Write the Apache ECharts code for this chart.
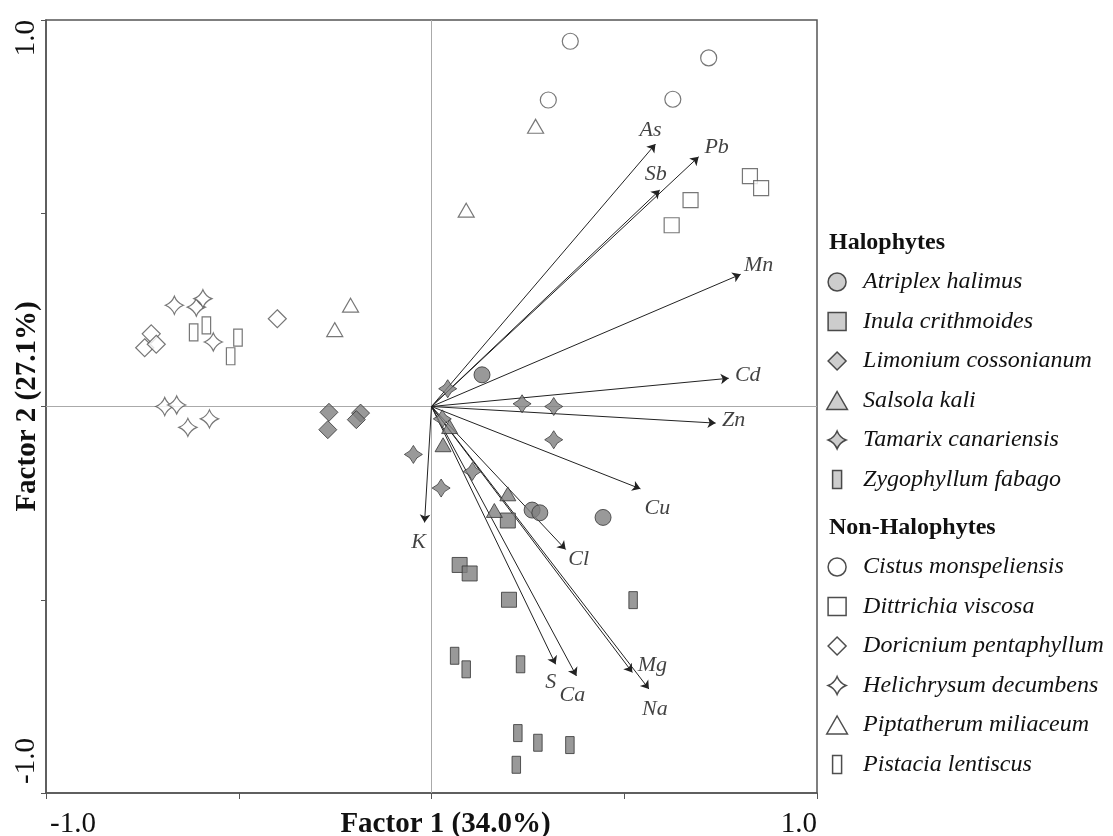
<!DOCTYPE html>
<html><head><meta charset="utf-8">
<script src="https://cdn.jsdelivr.net/npm/echarts@6/dist/echarts.min.js"></script>
<style>html,body{margin:0;padding:0;background:#fff}#c{width:1113px;height:836px}</style>
</head><body><div id="c"></div>
<script>
// ---- Data (Factor 1, Factor 2 scores) ----
const atriplexHalimus      = [[0.131,0.082],[0.261,-0.268],[0.281,-0.275],[0.445,-0.287]];
const inulaCrithmoides     = [[0.198,-0.295],[0.073,-0.410],[0.099,-0.432],[0.201,-0.500]];
const limoniumCossonianum  = [[-0.266,-0.015],[-0.269,-0.060],[-0.184,-0.017],[-0.195,-0.034]];
const salsolaKali          = [[0.047,-0.052],[0.030,-0.099],[0.198,-0.226],[0.163,-0.269]];
const tamarixCanariensis   = [[0.042,0.046],[0.235,0.007],[0.317,0.000],[0.317,-0.086],[0.106,-0.168],[0.025,-0.211],[-0.047,-0.124],[0.028,-0.032]];
const zygophyllumFabago    = [[0.523,-0.501],[0.060,-0.645],[0.090,-0.680],[0.231,-0.667],[0.224,-0.845],[0.276,-0.870],[0.359,-0.876],[0.220,-0.927]];

const cistusMonspeliensis  = [[0.360,0.945],[0.719,0.902],[0.303,0.793],[0.626,0.795]];
const dittrichiaViscosa    = [[0.826,0.596],[0.855,0.565],[0.672,0.534],[0.623,0.469]];
const doricniumPentaphyllum= [[-0.400,0.227],[-0.727,0.188],[-0.744,0.152],[-0.714,0.161]];
const helichrysumDecumbens = [[-0.667,0.262],[-0.610,0.257],[-0.593,0.279],[-0.566,0.167],[-0.692,0.000],[-0.661,0.004],[-0.632,-0.054],[-0.576,-0.032]];
const piptatherumMiliaceum = [[0.270,0.725],[0.090,0.508],[-0.210,0.262],[-0.251,0.199]];
const pistaciaLentiscus    = [[-0.617,0.192],[-0.584,0.210],[-0.502,0.178],[-0.521,0.130]];

// variable loadings (arrows)
const vectorNames = ['As','Pb','Sb','Mn','Cd','Zn','Cu','Cl','Mg','Na','S','Ca','K'];
const vectorX     = [0.581,0.693,0.592,0.802,0.771,0.737,0.542,0.348,0.521,0.564,0.322,0.376,-0.018];
const vectorY     = [0.679,0.646,0.560,0.342,0.073,-0.043,-0.213,-0.370,-0.688,-0.731,-0.667,-0.697,-0.300];

// axis tick labels
const xTickValues = [-1, 1];
const xTickLabels = ['-1.0', '1.0'];
const yTickValues = [-1, 1];
const yTickLabels = ['-1.0', '1.0'];

const haloNames = ['Atriplex halimus','Inula crithmoides','Limonium cossonianum','Salsola kali','Tamarix canariensis','Zygophyllum fabago'];
const nonHaloNames = ['Cistus monspeliensis','Dittrichia viscosa','Doricnium pentaphyllum','Helichrysum decumbens','Piptatherum miliaceum','Pistacia lentiscus'];

// ---- styling ----
const FONT = '"Liberation Serif", "Times New Roman", serif';
const labelOffsets = {As:[-5,-14],Pb:[18,-10],Sb:[-4,-16],Mn:[18,-9],Cd:[19,-3],Zn:[18,-3],Cu:[17,19],Cl:[13,10],Mg:[20,-7],Na:[6,20],S:[-5,18],Ca:[-4,19],K:[-6,20]};
const SYM = {
  circle:'circle',
  square:'path://M0,0H10V10H0Z',
  diamond:'path://M5,0L10,5L5,10L0,5Z',
  triangle:'path://M5,0L10,8.7L0,8.7Z',
  star:'path://M10,0Q12.8,7.2 20,10Q12.8,12.8 10,20Q7.2,12.8 0,10Q7.2,7.2 10,0Z',
  bar:'path://M0,0H5V10H0Z'
};
const filledStyle = {color:'#7f7f7f', borderColor:'#333', borderWidth:1};
const openStyle = {color:'#ffffff', borderColor:'#555', borderWidth:1.2};

function sc(name, data, sym, size, style){
  return {type:'scatter', name, data, symbol:SYM[sym], symbolSize:size, symbolKeepAspect:true,
    itemStyle:style, z:5, emphasis:{disabled:true}};
}
function tickFmt(values, labels){
  return v => { const i = values.findIndex(t => Math.abs(t - v) < 1e-9); return i >= 0 ? labels[i] : ''; };
}

const series = [
  {type:'lines', coordinateSystem:'cartesian2d', z:3, silent:true,
   data: vectorNames.map((n,i)=>({name:n, coords:[[0,0],[vectorX[i],vectorY[i]]]})),
   symbol:['none','arrow'], symbolSize:[0,8],
   lineStyle:{color:'#222', width:1, opacity:1},
   markLine:{silent:true, symbol:['none','none'], label:{show:false},
     lineStyle:{color:'#aaa', width:1, type:'solid'},
     data:[{xAxis:0},{yAxis:0}], z:1}
  },
  sc('Atriplex halimus', atriplexHalimus, 'circle', 16, filledStyle),
  sc('Inula crithmoides', inulaCrithmoides, 'square', 15, filledStyle),
  sc('Limonium cossonianum', limoniumCossonianum, 'diamond', 18, filledStyle),
  sc('Salsola kali', salsolaKali, 'triangle', 16, filledStyle),
  sc('Tamarix canariensis', tamarixCanariensis, 'star', 18, filledStyle),
  sc('Zygophyllum fabago', zygophyllumFabago, 'bar', 17, filledStyle),
  sc('Cistus monspeliensis', cistusMonspeliensis, 'circle', 16, openStyle),
  sc('Dittrichia viscosa', dittrichiaViscosa, 'square', 15, openStyle),
  sc('Doricnium pentaphyllum', doricniumPentaphyllum, 'diamond', 18, openStyle),
  sc('Helichrysum decumbens', helichrysumDecumbens, 'star', 18, openStyle),
  sc('Piptatherum miliaceum', piptatherumMiliaceum, 'triangle', 16, openStyle),
  sc('Pistacia lentiscus', pistaciaLentiscus, 'bar', 17, openStyle),
  {type:'scatter', name:'vectorLabels', silent:true, z:6, symbolSize:1,
   itemStyle:{color:'rgba(0,0,0,0)'},
   data: vectorNames.map((n,i)=>({name:n, value:[vectorX[i],vectorY[i]], label:{offset:labelOffsets[n]}})),
   label:{show:true, position:'inside', formatter:'{b}', fontFamily:FONT, fontStyle:'italic', fontSize:22, color:'#111'}
  }
];

const legendText = {fontFamily:FONT, fontStyle:'italic', fontSize:24, lineHeight:24, color:'#111'};
const option = {
  animation:false,
  backgroundColor:'#fff',
  grid:{left:46, right:296, top:20, bottom:43, show:true, borderColor:'#555', borderWidth:1.5, backgroundColor:'transparent', outerBoundsMode:'none'},
  xAxis:{type:'value', min:-1, max:1, interval:0.5, position:'bottom',
    axisLine:{onZero:false, lineStyle:{color:'#555', width:1.5}},
    axisTick:{show:true, length:6, lineStyle:{color:'#555'}},
    splitLine:{show:false},
    axisLabel:{formatter:tickFmt(xTickValues,xTickLabels), fontFamily:FONT, fontSize:29, color:'#111', margin:17, alignMinLabel:'left', alignMaxLabel:'right', showMinLabel:true, showMaxLabel:true, padding:[0,0,0,4]},
    name:'Factor 1 (34.0%)', nameLocation:'middle', nameGap:17, nameMoveOverlap:false,
    nameTextStyle:{fontFamily:FONT, fontWeight:'bold', fontSize:29, color:'#111', padding:[0,0,0,28]}
  },
  yAxis:{type:'value', min:-1, max:1, interval:0.5,
    axisLine:{onZero:false, lineStyle:{color:'#555', width:1.5}},
    axisTick:{show:true, length:5, lineStyle:{color:'#555'}},
    splitLine:{show:false},
    axisLabel:{formatter:tickFmt(yTickValues,yTickLabels), rotate:90, fontFamily:FONT, fontSize:29, color:'#111', margin:5, alignMinLabel:'left', alignMaxLabel:'right', showMinLabel:true, showMaxLabel:true, padding:[0,0,0,9]},
    name:'Factor 2 (27.1%)', nameLocation:'middle', nameGap:4, nameRotate:90, nameMoveOverlap:false,
    nameTextStyle:{fontFamily:FONT, fontWeight:'bold', fontSize:29, color:'#111'}
  },
  legend:[
    {orient:'vertical', left:826, top:270, padding:0, itemWidth:42, itemHeight:18, itemGap:15.5,
     symbolKeepAspect:true, selectedMode:false, data:haloNames,
     itemStyle:{color:'#c0c0c0', borderColor:'#222', borderWidth:1.5}, textStyle:legendText},
    {orient:'vertical', left:826, top:555, padding:0, itemWidth:42, itemHeight:18, itemGap:15.5,
     symbolKeepAspect:true, selectedMode:false, data:nonHaloNames,
     itemStyle:{color:'#ffffff', borderColor:'#222', borderWidth:1.5}, textStyle:legendText}
  ],
  graphic:[
    {type:'text', left:829, top:231, style:{text:'Halophytes', font:'bold 24px "Liberation Serif"', fill:'#111'}},
    {type:'text', left:829, top:516, style:{text:'Non-Halophytes', font:'bold 24px "Liberation Serif"', fill:'#111'}}
  ],
  series
};
const chart = echarts.init(document.getElementById('c'), null, {renderer:'canvas'});
chart.setOption(option);
</script>
</body></html>
